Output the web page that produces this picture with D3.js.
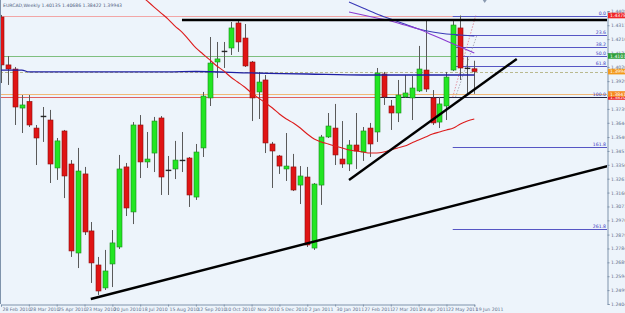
<!DOCTYPE html>
<html>
<head>
<meta charset="utf-8">
<script src="https://cdn.jsdelivr.net/npm/d3@7/dist/d3.min.js"></script>
<style>
  body { margin: 0; background: #edf4fb; }
  svg { display: block; font-family: "DejaVu Sans", sans-serif; }
</style>
</head>
<body>
<svg id="chart" width="625" height="313"></svg>
<script>
// weekly candles, first bar = week of 28 Feb 2010
var firstWeek = Date.UTC(2010, 1, 28);
var opens  = [1.4368,1.4040,1.4012,1.3745,1.3790,1.3608,1.3690,1.3663,1.3335,1.3588,
              1.3362,1.2753,1.3294,1.2904,1.2671,1.2514,1.2678,1.2794,1.3342,1.3034,
              1.3629,1.3376,1.3437,1.3677,1.3321,1.3328,1.3389,1.3403,1.3136,1.3472,
              1.3814,1.4060,1.4135,1.4156,1.4327,1.4224,1.4060,1.3855,1.3937,1.3499,
              1.3417,1.3328,1.3342,1.3218,1.3273,1.2787,1.3218,1.3547,1.3608,1.3396,
              1.3362,1.3492,1.3444,1.3608,1.3581,1.3978,1.3759,1.3711,1.3821,1.3814,
              1.3862,1.4005,1.3814,1.3649,1.3759,1.4005,1.4293,1.4019,1.40135];
var highs  = [1.4382,1.4101,1.4026,1.3834,1.3834,1.3629,1.3752,1.3732,1.3540,1.3595,
              1.3389,1.3472,1.3342,1.2965,1.2726,1.2774,1.2910,1.3424,1.3369,1.3649,
              1.3697,1.3581,1.3684,1.3690,1.3417,1.3520,1.3581,1.3410,1.3499,1.3855,
              1.4231,1.4197,1.4197,1.4334,1.4341,1.4320,1.4067,1.3992,1.3971,1.3513,
              1.3424,1.3574,1.3431,1.3348,1.3342,1.3232,1.3561,1.3711,1.3773,1.3656,
              1.3526,1.3711,1.3615,1.3643,1.4019,1.3992,1.3800,1.3937,1.3971,1.3964,
              1.4170,1.4347,1.3868,1.3821,1.3992,1.4340,1.4378,1.4094,1.40686];
var lows   = [1.3916,1.3903,1.3629,1.3574,1.3615,1.3355,1.3513,1.3232,1.3253,1.3129,
              1.2726,1.2650,1.2876,1.2548,1.2466,1.2500,1.2520,1.2780,1.3006,1.2951,
              1.3266,1.3335,1.3307,1.3150,1.3150,1.3259,1.3307,1.3068,1.3116,1.3410,
              1.3759,1.3951,1.4019,1.4108,1.4129,1.4026,1.3656,1.3670,1.3437,1.3198,
              1.3294,1.3246,1.3177,1.3088,1.2794,1.2774,1.3082,1.3540,1.3355,1.3335,
              1.3314,1.3328,1.3383,1.3410,1.3513,1.3766,1.3595,1.3649,1.3814,1.3663,
              1.3855,1.3855,1.3629,1.3608,1.3663,1.3998,1.3937,1.3834,1.38422];
var closes = [1.4040,1.4012,1.3752,1.3766,1.3629,1.3540,1.3690,1.3362,1.3520,1.3280,
              1.2767,1.3314,1.2897,1.2685,1.2493,1.2630,1.2822,1.3328,1.3061,1.3629,
              1.3376,1.3396,1.3656,1.3273,1.3321,1.3389,1.3389,1.3150,1.3444,1.3827,
              1.4053,1.4081,1.4135,1.4293,1.4197,1.4033,1.3814,1.3923,1.3506,1.3451,
              1.3348,1.3348,1.3184,1.3280,1.2808,1.3225,1.3547,1.3622,1.3424,1.3362,
              1.3492,1.3451,1.3588,1.3499,1.3985,1.3821,1.3711,1.3834,1.3848,1.3882,
              1.4012,1.3875,1.3643,1.3773,1.3957,1.4313,1.4019,1.4019,1.39943];

// moving averages: [week index, price]
var redMA = [[20,1.4519],[21,1.4478],[22,1.4436],[23,1.4395],[24,1.4354],[25,1.4306],[26,1.4265],
             [27,1.4211],[28,1.4156],[29,1.4115],[30,1.4074],[31,1.4033],[32,1.3999],[33,1.3957],
             [34,1.3923],[35,1.3889],[36,1.3848],[37,1.3814],[38,1.3780],[39,1.3745],[40,1.3704],
             [41,1.3670],[42,1.3643],[43,1.3608],[44,1.3567],[45,1.3533],[46,1.3513],[47,1.3499],
             [48,1.3485],[49,1.3472],[50,1.3458],[51,1.3451],[52,1.3444],[53,1.3437],[54,1.3437],
             [55,1.3444],[56,1.3458],[57,1.3472],[58,1.3485],[59,1.3506],[60,1.3526],[61,1.3547],
             [62,1.3567],[63,1.3581],[64,1.3595],[65,1.3608],[66,1.3636],[67,1.3656],[68,1.3670]];
var navyMA = [[0,1.4005],[3,1.4005],[4,1.3992],[24,1.3992],[28,1.3995],[36,1.3985],
              [44,1.3978],[52,1.3971],[68,1.3971]];
var blueMA = [[50,1.4471],[52,1.4430],[54,1.4389],[56,1.4354],[58,1.4320],
              [60,1.4286],[62,1.4265],[64,1.4252],[66,1.4245],[68,1.4238]];
var purpleMA = [[50,1.4402],[52,1.4382],[54,1.4361],
                [56,1.4341],[58,1.4313],[60,1.4286],[62,1.4245],[64,1.4204],[66,1.4163],[68,1.4122]];

// trend lines drawn by hand: [week index, price]
var resistanceLine = [[26.0,1.4347],[87.1,1.4347]];
var longSupport    = [[12.9,1.2438],[87.2,1.3348]];
var risingSupport  = [[50.0,1.3253],[74.1,1.4081]];

// fibonacci tool
var fibHigh = 1.4378, fibLow = 1.3820, fibStartWeek = 64.9;
var fibLevels = [0, 23.6, 38.2, 50.0, 61.8, 100.0, 161.8, 261.8];

// horizontal lines and axis price tags
var levelPrices = [1.43781, 1.41011, 1.39900, 1.38411, 1.38205];
var tagPrices   = [1.43781, 1.41011, 1.39943, 1.38205, 1.38411];

var yTicks = [1.24040,1.24990,1.25940,1.26890,1.27840,1.28790,1.29765,1.30715,1.31665,1.32615,
              1.33565,1.34515,1.35465,1.36440,1.37390,1.38340,1.39290,1.40265,1.41215,1.42165,
              1.43115,1.44090];
var xTickDates = ['2010-02-28','2010-03-28','2010-04-25','2010-05-23','2010-06-20','2010-07-18',
                  '2010-08-15','2010-09-12','2010-10-10','2010-11-07','2010-12-05','2011-01-02',
                  '2011-01-30','2011-02-27','2011-03-27','2011-04-24','2011-05-22','2011-06-19'];

var titleText = 'EURCAD,Weekly  1.40135 1.40686 1.38422 1.39943';

var W = 625, H = 313, plotR = 607, plotB = 304;
var svg = d3.select('#chart');

function weekDate(i) { return new Date(firstWeek + i * 7 * 864e5); }

var x = d3.scaleUtc()
  .domain([weekDate(0), weekDate(68)])
  .range([1, 474.3]);
var y = d3.scaleLinear()
  .domain([1.24040, 1.44090])
  .range([plotB, 11]);
function xw(i) { return x(weekDate(i)); }

svg.append('rect').attr('width', W).attr('height', H).attr('fill', '#edf4fb');

svg.append('defs').append('clipPath').attr('id', 'plot')
  .append('rect').attr('x', 0).attr('y', 0).attr('width', plotR).attr('height', plotB);

var plot = svg.append('g').attr('clip-path', 'url(#plot)');

// horizontal level lines
var levelColors = ['#f2a6a6', '#7fbf7f', '#b9b98f', '#f1b877', '#e06060'];
plot.selectAll('.lvl').data(levelPrices).enter().append('line')
  .attr('x1', 0).attr('x2', plotR)
  .attr('y1', function(d) { return Math.round(y(d)) + 0.5; })
  .attr('y2', function(d) { return Math.round(y(d)) + 0.5; })
  .attr('stroke', function(d, i) { return levelColors[i]; })
  .attr('stroke-width', 1)
  .attr('stroke-dasharray', function(d, i) { return i == 2 ? '3,2' : null; });

// fibonacci
var fibRange = fibHigh - fibLow;
plot.selectAll('.fib').data(fibLevels).enter().append('line')
  .attr('x1', function(d) { return d == 100 ? xw(54.5) : xw(fibStartWeek); })
  .attr('x2', plotR)
  .attr('y1', function(d) { return Math.round(y(fibHigh - d / 100 * fibRange)) + 0.5; })
  .attr('y2', function(d) { return Math.round(y(fibHigh - d / 100 * fibRange)) + 0.5; })
  .attr('stroke', function(d) { return d == 100 ? '#222244' : '#5656c4'; })
  .attr('stroke-width', 1);

plot.selectAll('.fibtxt').data(fibLevels).enter().append('text')
  .attr('x', plotR - 1)
  .attr('y', function(d) { return y(fibHigh - d / 100 * fibRange) - 1; })
  .attr('text-anchor', 'end')
  .attr('font-size', '4.6px')
  .attr('fill', '#3b3bc0')
  .text(function(d) { return d.toFixed(1); });

// fib dotted diagonals
plot.append('line')
  .attr('x1', xw(fibStartWeek)).attr('y1', y(fibLow))
  .attr('x2', xw(68.2)).attr('y2', y(fibHigh))
  .attr('stroke', '#e07a8a').attr('stroke-width', 0.8).attr('stroke-dasharray', '1.5,1.5');
plot.append('line')
  .attr('x1', xw(65.3)).attr('y1', y(fibLow))
  .attr('x2', xw(68.4)).attr('y2', y(fibHigh - 0.236 * fibRange))
  .attr('stroke', '#9a9aa8').attr('stroke-width', 0.8).attr('stroke-dasharray', '1.5,1.5');

// candles
var idx = d3.range(opens.length);
var bodyW = 5;
var candle = plot.selectAll('.c').data(idx).enter().append('g');

candle.append('line')
  .attr('x1', function(i) { return Math.round(xw(i)) + 0.5; })
  .attr('x2', function(i) { return Math.round(xw(i)) + 0.5; })
  .attr('y1', function(i) { return y(highs[i]); })
  .attr('y2', function(i) { return y(lows[i]); })
  .attr('stroke', '#5a5a5a').attr('stroke-width', 1);

candle.append('rect')
  .attr('x', function(i) { return Math.round(xw(i)) + 0.5 - bodyW / 2; })
  .attr('width', bodyW)
  .attr('y', function(i) { return y(Math.max(opens[i], closes[i])); })
  .attr('height', function(i) { return Math.max(0.8, Math.abs(y(opens[i]) - y(closes[i]))); })
  .attr('fill', function(i) {
    if (closes[i] > opens[i]) return '#22e622';
    if (closes[i] < opens[i]) return '#e01414';
    return '#222';
  })
  .attr('stroke', function(i) {
    if (closes[i] > opens[i]) return '#1c8a1c';
    if (closes[i] < opens[i]) return '#8a1010';
    return '#222';
  })
  .attr('stroke-width', 0.6);

// moving averages
var maLine = d3.line()
  .x(function(d) { return xw(d[0]); })
  .y(function(d) { return y(d[1]); })
  .curve(d3.curveMonotoneX);

plot.append('path').datum(navyMA).attr('d', maLine)
  .attr('fill', 'none').attr('stroke', '#1f1fa3').attr('stroke-width', 1.3);
plot.append('path').datum(redMA).attr('d', maLine)
  .attr('fill', 'none').attr('stroke', '#dd1c1c').attr('stroke-width', 1.1);
plot.append('path').datum(blueMA).attr('d', maLine)
  .attr('fill', 'none').attr('stroke', '#3a3ab8').attr('stroke-width', 1.1);
plot.append('path').datum(purpleMA).attr('d', maLine)
  .attr('fill', 'none').attr('stroke', '#8a3ad0').attr('stroke-width', 1.1);

// trend lines
var trendLine = d3.line()
  .x(function(d) { return xw(d[0]); })
  .y(function(d) { return y(d[1]); });
[resistanceLine, longSupport, risingSupport].forEach(function(t) {
  plot.append('path').datum(t).attr('d', trendLine)
    .attr('fill', 'none').attr('stroke', '#000').attr('stroke-width', 2.4);
});

// shift marker
svg.append('path')
  .attr('d', 'M' + (xw(69.5) - 2) + ',0 L' + (xw(69.5) + 2) + ',0 L' + xw(69.5) + ',3 Z')
  .attr('fill', '#8a9ab0');

// axes
var axisColor = '#7f93ab', textColor = '#5d6f8c';

var yAxis = d3.axisRight(y)
  .tickValues(yTicks)
  .tickFormat(d3.format('.5f'))
  .tickSize(2)
  .tickPadding(1.5);
var gy = svg.append('g').attr('transform', 'translate(' + (plotR + 0.5) + ',0)').call(yAxis);

var xAxis = d3.axisBottom(x)
  .tickValues(xTickDates.map(function(s) { return new Date(s + 'T00:00:00Z'); }))
  .tickFormat(d3.utcFormat('%-d %b %Y'))
  .tickSize(2)
  .tickPadding(1.5);
var gx = svg.append('g').attr('transform', 'translate(0,' + (plotB + 0.5) + ')').call(xAxis);
gx.selectAll('text').attr('text-anchor', 'start').attr('dx', '1px');

[gx, gy].forEach(function(g) {
  g.select('.domain').attr('stroke', axisColor);
  g.selectAll('.tick line').attr('stroke', axisColor);
  g.selectAll('text').attr('fill', textColor).attr('font-size', '4.6px')
    .attr('font-family', '"DejaVu Sans", sans-serif');
});
svg.append('line').attr('x1', 0.5).attr('x2', 0.5).attr('y1', 0).attr('y2', plotB)
  .attr('stroke', axisColor);

// price tags on the axis (orange tag drawn over the red one, as in the terminal)
var tagColors = ['#f02828', '#2f9f3a', '#f39a1c', '#ea2a2a', '#f58a1e'];
var tag = svg.selectAll('.tag').data(tagPrices).enter().append('g')
  .attr('transform', function(d) { return 'translate(' + (plotR + 1) + ',' + y(d) + ')'; });
tag.append('rect')
  .attr('x', 0).attr('y', -2.8).attr('width', W - plotR).attr('height', 5.6)
  .attr('fill', function(d, i) { return tagColors[i]; });
tag.append('text')
  .attr('x', 2).attr('y', 1.7)
  .attr('font-size', '4.6px').attr('fill', '#fff')
  .text(function(d) { return d.toFixed(5); });

// title
svg.append('text')
  .attr('x', 3).attr('y', 7)
  .attr('font-size', '4.6px').attr('fill', '#4d5d80')
  .text(titleText);
</script>
</body>
</html>
